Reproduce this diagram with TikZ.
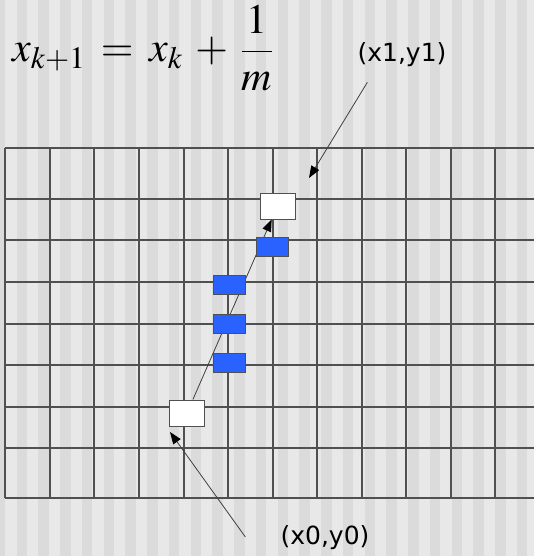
\documentclass[tikz,border=0pt]{standalone}
\usepackage{mathptmx}
\usepackage[no-math]{fontspec}
\usepackage{tikz}
\usetikzlibrary{arrows.meta,positioning,calc}
\newfontfamily\lblfont{DejaVu Sans}
\definecolor{stripelight}{HTML}{E8E8E8}
\definecolor{stripedark}{HTML}{DBDBDB}
\definecolor{gridcol}{HTML}{505050}
\definecolor{pixblue}{HTML}{2962FF}
\tikzset{
  gridln/.style={gridcol, line width=2pt},
  pix/.style={draw=gridcol, line width=0.8pt, fill=pixblue, minimum width=32pt, minimum height=19pt, inner sep=0pt},
  endpix/.style={draw=gridcol, line width=0.9pt, fill=white, minimum width=35pt, minimum height=26pt, inner sep=0pt},
  arr/.style={-{Triangle[length=12pt, width=9pt, color=black]}, line width=0.8pt, draw=black!75},
  lab/.style={font=\lblfont\fontsize{25}{30}\selectfont, inner sep=0pt},
  formula/.style={font=\fontsize{42}{48}\selectfont, inner sep=0pt},
}

\begin{document}
\begin{tikzpicture}[x=1pt, y=-1pt]
        \useasboundingbox (0,0) rectangle (534,556);
        \clip (0,0) rectangle (534,556);
        % striped backdrop
        \fill[stripelight] (0,0) rectangle (534,556);
        \foreach \i in {0,...,25} \fill[stripedark] ({-5.25+\i*21.75},0) rectangle ++(10.5,556);
        % raster
        \foreach \gx in {5,50,94,139,184,228,273,317,362,406,451,495,540} \draw[gridln] (\gx,148) -- (\gx,498);
        \foreach \gy in {148,199,240,282,324,365,407,448,498} \draw[gridln] (5,\gy) -- (540,\gy);
        \node[formula, anchor=base west] (eqn) at (12,62)
          {\thickmuskip=6.7mu \medmuskip=5.4mu $\displaystyle x_{k+1} = x_k + \frac{1}{m}$};
        \node[endpix] (start) at (187,413) {};
        \node[endpix] (finish) at (277.5,206) {};
        \draw[arr] (start) -- (finish);
        \node[pix] (p1) at (229,363) {};
        \node[pix] (p2) at (229,324) {};
        \node[pix] (p3) at (229,285) {};
        \node[pix] (p4) at (272,246.5) {};
        \node[lab] (lblB) at (402,55) {(x1,y1)};
        \node[lab] (lblA) at (325,538) {(x0,y0)};
        \coordinate (tipB) at (309,178);
        \coordinate (tipA) at (170,432);
        \draw[arr] (lblB.south west) ++(10,15) -- (tipB);
        \draw[arr] (lblA.west) ++(-35,-1) -- (tipA);
      \end{tikzpicture}
\end{document}
